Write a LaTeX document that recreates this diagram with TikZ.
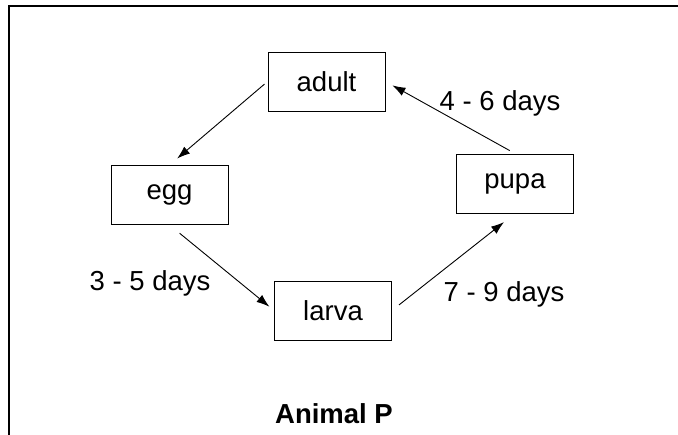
\documentclass[tikz,border=0pt]{standalone}
\usepackage{fontspec}
\setmainfont{Liberation Sans}
\usetikzlibrary{arrows.meta}
\begin{document}
\begin{tikzpicture}[
x=1pt, y=-1pt,
font=\fontsize{27.5}{31}\selectfont,
block/.style={draw, rectangle, line width=0.9pt, minimum width=117pt, minimum height=59pt, align=center},
arrow/.style={-{Latex[length=13pt, width=9pt]}, line width=0.9pt},
frame/.style={line width=1.3pt}
]
\useasboundingbox (0,0) rectangle (678,435);
\draw[frame] (9,435) -- (9,6) -- (678,6);
\node[block] (adult) at (326.5,81.5) {adult};
\node[block] (egg) at (169.5,195) {egg};
\node[block] (larva) at (333,310.5) {larva};
\node[block] (pupa) at (515,183.5) {pupa};
\node (t46) at (500,103) {4 - 6 days};
\node (t35) at (150,283) {3 - 5 days};
\node (t79) at (504,294) {7 - 9 days};
\node[font=\fontsize{27.5}{31}\selectfont\bfseries] (title) at (334,414) {Animal P};
\draw[arrow, shorten <=4pt, shorten >=10pt] (adult.west) -- (egg.north);
\draw[arrow, shorten <=13pt, shorten >=6pt] (egg.south) -- (larva.west);
\draw[arrow, shorten <=9pt, shorten >=14pt] (larva.east) -- (pupa.south);
\draw[arrow, shorten <=6pt, shorten >=8pt] (pupa.north) -- (adult.east);
\end{tikzpicture}
\end{document}
